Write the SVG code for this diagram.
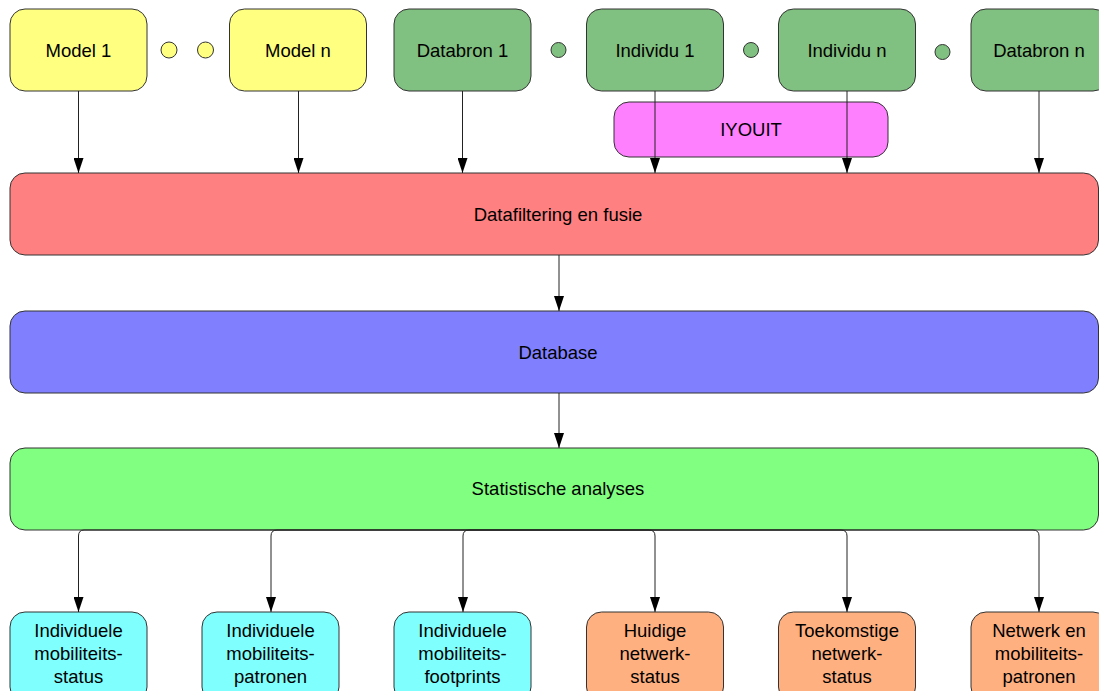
<svg xmlns="http://www.w3.org/2000/svg" width="1099" height="691" viewBox="0 0 1099 691">
<style>
.n{stroke:#333;stroke-width:1}
.t{font-family:"Liberation Sans",Arial,sans-serif;font-size:18.5px;fill:#000;text-anchor:middle}
.c{fill:none;stroke:#222;stroke-width:1}
.yel{fill:#FFFF80}.grn{fill:#80C080}.mag{fill:#FF80FF}.red{fill:#FF8080}.blu{fill:#8080FF}.lgr{fill:#80FF80}.cya{fill:#80FFFF}.org{fill:#FFB080}
</style>
<defs>
<marker id="ah" markerWidth="15" markerHeight="10" refX="15" refY="5" orient="auto" markerUnits="userSpaceOnUse" viewBox="0 0 15 10">
<path d="M0,0 L15,5 L0,10 Z" fill="#000"/>
</marker>
</defs>
<rect width="1099" height="691" fill="#fff"/>
<g id="model1"><rect class="n yel" x="10" y="9" width="137" height="82" rx="15"/><text class="t" x="78.5" y="56.5">Model 1</text></g>
<g id="dot1"><circle class="n yel" cx="169" cy="50" r="8"/></g>
<g id="dot2"><circle class="n yel" cx="205.5" cy="50" r="8"/></g>
<g id="modeln"><rect class="n yel" x="229.5" y="9" width="137" height="82" rx="15"/><text class="t" x="298" y="56.5">Model n</text></g>
<g id="databron1"><rect class="n grn" x="394" y="9" width="137" height="82" rx="15"/><text class="t" x="462.5" y="56.5">Databron 1</text></g>
<g id="dot3"><circle class="n grn" cx="558.5" cy="50" r="7.5"/></g>
<g id="individu1"><rect class="n grn" x="586.5" y="9" width="137" height="82" rx="15"/><text class="t" x="655" y="56.5">Individu 1</text></g>
<g id="dot4"><circle class="n grn" cx="751" cy="50" r="7.5"/></g>
<g id="individun"><rect class="n grn" x="778.5" y="9" width="137" height="82" rx="15"/><text class="t" x="847" y="56.5">Individu n</text></g>
<g id="dot5"><circle class="n grn" cx="942.5" cy="52" r="7.5"/></g>
<g id="databronn"><rect class="n grn" x="971" y="9" width="137" height="82" rx="15"/><text class="t" x="1039" y="56.5">Databron n</text></g>
<g id="iyouit"><rect class="n mag" x="614" y="102" width="274" height="55" rx="15"/><text class="t" x="751" y="136">IYOUIT</text></g>
<g id="fusie"><rect class="n red" x="10" y="173" width="1088.5" height="82" rx="15"/><text class="t" x="558" y="220.5">Datafiltering en fusie</text></g>
<g id="database"><rect class="n blu" x="10" y="311" width="1088.5" height="82" rx="15"/><text class="t" x="558" y="358.5">Database</text></g>
<g id="stat"><rect class="n lgr" x="10" y="448" width="1088.5" height="82" rx="15"/><text class="t" x="558" y="495">Statistische analyses</text></g>
<g id="out1"><rect class="n cya" x="10" y="612" width="137" height="90" rx="15"/><text class="t" x="78.5" y="636.5">Individuele</text><text class="t" x="78.5" y="659.5">mobiliteits-</text><text class="t" x="78.5" y="682.5">status</text></g>
<g id="out2"><rect class="n cya" x="202" y="612" width="137" height="90" rx="15"/><text class="t" x="270.5" y="636.5">Individuele</text><text class="t" x="270.5" y="659.5">mobiliteits-</text><text class="t" x="270.5" y="682.5">patronen</text></g>
<g id="out3"><rect class="n cya" x="394" y="612" width="137" height="90" rx="15"/><text class="t" x="462.5" y="636.5">Individuele</text><text class="t" x="462.5" y="659.5">mobiliteits-</text><text class="t" x="462.5" y="682.5">footprints</text></g>
<g id="out4"><rect class="n org" x="586.5" y="612" width="137" height="90" rx="15"/><text class="t" x="655" y="636.5">Huidige</text><text class="t" x="655" y="659.5">netwerk-</text><text class="t" x="655" y="682.5">status</text></g>
<g id="out5"><rect class="n org" x="778.5" y="612" width="137" height="90" rx="15"/><text class="t" x="847" y="636.5">Toekomstige</text><text class="t" x="847" y="659.5">netwerk-</text><text class="t" x="847" y="682.5">status</text></g>
<g id="out6"><rect class="n org" x="971" y="612" width="137" height="90" rx="15"/><text class="t" x="1039" y="636.5">Netwerk en</text><text class="t" x="1039" y="659.5">mobiliteits-</text><text class="t" x="1039" y="682.5">patronen</text></g>
<g id="connectors">
<path class="c" d="M78.5,91 V173" marker-end="url(#ah)"/>
<path class="c" d="M298.5,91 V173" marker-end="url(#ah)"/>
<path class="c" d="M462.5,91 V173" marker-end="url(#ah)"/>
<path class="c" d="M655,91 V173" marker-end="url(#ah)"/>
<path class="c" d="M847,91 V173" marker-end="url(#ah)"/>
<path class="c" d="M1039,91 V173" marker-end="url(#ah)"/>
<path class="c" d="M559,255 V311" marker-end="url(#ah)"/>
<path class="c" d="M559,393 V448" marker-end="url(#ah)"/>
<path class="c" d="M559,530 H84 Q78.5,530 78.5,536 V612" marker-end="url(#ah)"/>
<path class="c" d="M559,530 H277 Q271,530 271,536 V612" marker-end="url(#ah)"/>
<path class="c" d="M559,530 H469 Q463,530 463,536 V612" marker-end="url(#ah)"/>
<path class="c" d="M559,530 H649 Q655,530 655,536 V612" marker-end="url(#ah)"/>
<path class="c" d="M559,530 H841 Q847,530 847,536 V612" marker-end="url(#ah)"/>
<path class="c" d="M559,530 H1033 Q1039,530 1039,536 V612" marker-end="url(#ah)"/>
</g>
</svg>
